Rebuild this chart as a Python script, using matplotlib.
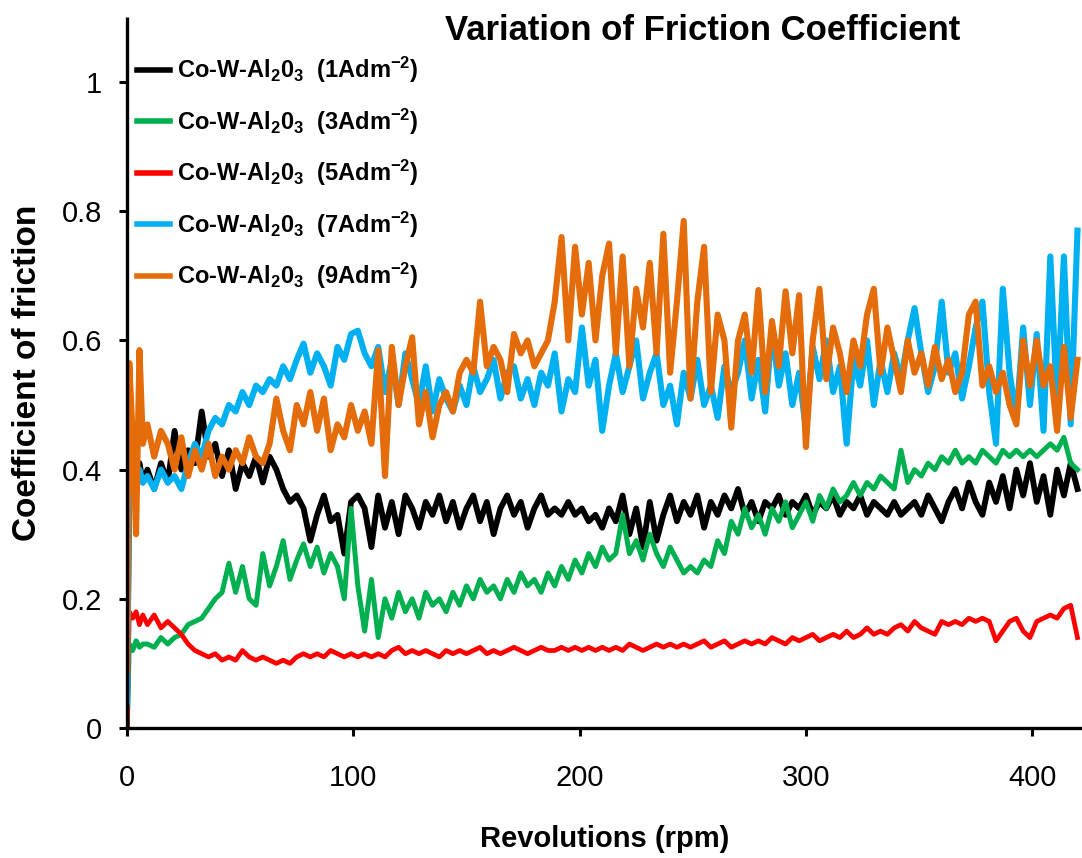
import matplotlib
matplotlib.use("Agg")
import matplotlib.pyplot as plt

# Sampling points along the test (revolutions): a dense start, then every 3 rev
revolutions = [0, 1, 2.5, 4, 5.5, 7] + list(range(9, 421, 3))

mu_1A = [0.00, 0.40, 0.42, 0.39, 0.41, 0.38,
         0.40, 0.37, 0.41, 0.38, 0.46, 0.40, 0.43, 0.41, 0.49, 0.42,
         0.44, 0.39, 0.43, 0.37, 0.41, 0.39, 0.42, 0.38, 0.42, 0.40,
         0.37, 0.35, 0.36, 0.34, 0.29, 0.33, 0.36, 0.32, 0.33, 0.27,
         0.35, 0.36, 0.34, 0.28, 0.36, 0.31, 0.35, 0.30, 0.36, 0.34,
         0.31, 0.35, 0.33, 0.36, 0.32, 0.35, 0.31, 0.34, 0.36, 0.32,
         0.35, 0.30, 0.34, 0.36, 0.33, 0.35, 0.31, 0.34, 0.36, 0.33,
         0.34, 0.33, 0.35, 0.33, 0.34, 0.32, 0.33, 0.31, 0.34, 0.32,
         0.36, 0.30, 0.34, 0.28, 0.35, 0.29, 0.33, 0.36, 0.32, 0.35,
         0.33, 0.36, 0.31, 0.35, 0.33, 0.36, 0.34, 0.37, 0.33, 0.35,
         0.32, 0.35, 0.34, 0.36, 0.33, 0.35, 0.34, 0.36, 0.33, 0.35,
         0.34, 0.36, 0.33, 0.35, 0.34, 0.36, 0.33, 0.35, 0.34, 0.33,
         0.35, 0.33, 0.34, 0.35, 0.33, 0.36, 0.34, 0.32, 0.35, 0.37,
         0.34, 0.38, 0.35, 0.33, 0.38, 0.35, 0.39, 0.34, 0.40, 0.36,
         0.41, 0.35, 0.39, 0.33, 0.40, 0.36, 0.41, 0.37]

mu_3A = [0.00, 0.13, 0.12, 0.135, 0.125, 0.13,
         0.13, 0.125, 0.14, 0.13, 0.14, 0.145, 0.16, 0.165, 0.17, 0.185,
         0.20, 0.21, 0.255, 0.21, 0.25, 0.20, 0.19, 0.27, 0.22, 0.25,
         0.29, 0.23, 0.26, 0.285, 0.25, 0.28, 0.24, 0.27, 0.25, 0.20,
         0.34, 0.22, 0.15, 0.23, 0.14, 0.20, 0.17, 0.21, 0.18, 0.20,
         0.17, 0.21, 0.19, 0.20, 0.18, 0.21, 0.19, 0.22, 0.20, 0.23,
         0.21, 0.22, 0.20, 0.23, 0.21, 0.24, 0.22, 0.23, 0.21, 0.24,
         0.22, 0.25, 0.23, 0.26, 0.24, 0.27, 0.25, 0.28, 0.26, 0.27,
         0.33, 0.27, 0.29, 0.26, 0.30, 0.27, 0.25, 0.28, 0.26, 0.24,
         0.25, 0.24, 0.26, 0.25, 0.29, 0.27, 0.32, 0.30, 0.34, 0.31,
         0.33, 0.30, 0.34, 0.32, 0.35, 0.31, 0.33, 0.35, 0.32, 0.36,
         0.34, 0.37, 0.35, 0.36, 0.38, 0.36, 0.38, 0.37, 0.39, 0.38,
         0.37, 0.43, 0.38, 0.40, 0.39, 0.41, 0.40, 0.42, 0.41, 0.43,
         0.41, 0.42, 0.41, 0.43, 0.42, 0.41, 0.43, 0.42, 0.43, 0.42,
         0.43, 0.42, 0.43, 0.44, 0.43, 0.45, 0.41, 0.40]

mu_5A = [0.00, 0.18, 0.17, 0.18, 0.16, 0.175,
         0.16, 0.175, 0.155, 0.165, 0.155, 0.145, 0.13, 0.12, 0.115, 0.11,
         0.115, 0.105, 0.11, 0.105, 0.12, 0.11, 0.105, 0.11, 0.105, 0.10,
         0.105, 0.10, 0.11, 0.115, 0.11, 0.115, 0.11, 0.12, 0.115, 0.11,
         0.115, 0.11, 0.115, 0.11, 0.115, 0.11, 0.12, 0.125, 0.115, 0.12,
         0.115, 0.12, 0.115, 0.11, 0.12, 0.115, 0.12, 0.115, 0.12, 0.125,
         0.115, 0.12, 0.115, 0.12, 0.125, 0.12, 0.115, 0.12, 0.125, 0.12,
         0.12, 0.125, 0.12, 0.125, 0.12, 0.125, 0.12, 0.125, 0.12, 0.125,
         0.12, 0.13, 0.125, 0.12, 0.125, 0.13, 0.125, 0.13, 0.125, 0.13,
         0.125, 0.13, 0.135, 0.125, 0.13, 0.135, 0.125, 0.13, 0.135, 0.13,
         0.135, 0.13, 0.14, 0.135, 0.13, 0.14, 0.135, 0.14, 0.145, 0.135,
         0.14, 0.145, 0.14, 0.15, 0.14, 0.145, 0.155, 0.145, 0.15, 0.145,
         0.155, 0.16, 0.15, 0.165, 0.155, 0.15, 0.145, 0.165, 0.16, 0.165,
         0.16, 0.17, 0.165, 0.17, 0.165, 0.135, 0.15, 0.165, 0.17, 0.15,
         0.14, 0.165, 0.17, 0.175, 0.17, 0.185, 0.19, 0.14]

mu_7A = [0.04, 0.40, 0.39, 0.37, 0.40, 0.38,
         0.39, 0.37, 0.40, 0.38, 0.39, 0.37, 0.41, 0.44, 0.42, 0.46,
         0.48, 0.47, 0.50, 0.49, 0.52, 0.50, 0.53, 0.52, 0.54, 0.53,
         0.56, 0.54, 0.57, 0.595, 0.55, 0.58, 0.56, 0.53, 0.59, 0.57,
         0.61, 0.615, 0.58, 0.56, 0.59, 0.52, 0.57, 0.50, 0.58, 0.54,
         0.50, 0.56, 0.49, 0.54, 0.51, 0.49, 0.53, 0.50, 0.56, 0.52,
         0.54, 0.57, 0.51, 0.55, 0.56, 0.51, 0.54, 0.50, 0.55, 0.53,
         0.58, 0.49, 0.54, 0.52, 0.62, 0.53, 0.57, 0.46, 0.53, 0.58,
         0.52, 0.56, 0.60, 0.51, 0.55, 0.58, 0.50, 0.53, 0.47, 0.55,
         0.51, 0.57, 0.50, 0.53, 0.48, 0.56, 0.52, 0.55, 0.60, 0.51,
         0.57, 0.49, 0.62, 0.53, 0.58, 0.50, 0.55, 0.46, 0.59, 0.54,
         0.60, 0.52, 0.56, 0.44, 0.57, 0.53, 0.60, 0.50, 0.57, 0.52,
         0.58, 0.54, 0.60, 0.65, 0.58, 0.52, 0.56, 0.66, 0.55, 0.58,
         0.51, 0.56, 0.62, 0.66, 0.52, 0.44, 0.68, 0.55, 0.48, 0.62,
         0.50, 0.61, 0.46, 0.73, 0.50, 0.73, 0.47, 0.77]

mu_9A = [0.09, 0.565, 0.45, 0.30, 0.585, 0.44,
         0.47, 0.42, 0.46, 0.44, 0.40, 0.45, 0.39, 0.43, 0.40, 0.44,
         0.39, 0.42, 0.40, 0.43, 0.41, 0.45, 0.42, 0.41, 0.44, 0.51,
         0.46, 0.43, 0.50, 0.47, 0.52, 0.46, 0.51, 0.43, 0.47, 0.45,
         0.50, 0.46, 0.49, 0.44, 0.585, 0.39, 0.59, 0.50, 0.56, 0.605,
         0.47, 0.52, 0.45, 0.50, 0.52, 0.49, 0.55, 0.57, 0.55, 0.66,
         0.56, 0.59, 0.57, 0.52, 0.61, 0.58, 0.60, 0.56, 0.58, 0.60,
         0.66, 0.76, 0.60, 0.745, 0.64, 0.72, 0.60, 0.70, 0.75, 0.58,
         0.73, 0.56, 0.68, 0.62, 0.72, 0.58, 0.765, 0.55, 0.66, 0.785,
         0.51, 0.66, 0.745, 0.52, 0.64, 0.60, 0.465, 0.60, 0.64, 0.55,
         0.678, 0.52, 0.63, 0.56, 0.676, 0.58, 0.67, 0.435, 0.60, 0.68,
         0.54, 0.62, 0.58, 0.52, 0.60, 0.56, 0.64, 0.68, 0.55, 0.62,
         0.57, 0.52, 0.60, 0.55, 0.58, 0.53, 0.59, 0.54, 0.57, 0.52,
         0.55, 0.64, 0.66, 0.53, 0.56, 0.52, 0.55, 0.50, 0.47, 0.60,
         0.53, 0.60, 0.53, 0.56, 0.46, 0.59, 0.48, 0.57]

# (values, colour, current density, line width)
series = [
    (mu_1A, "#000000", "1", 4.2),
    (mu_3A, "#00B050", "3", 3.6),
    (mu_5A, "#FF0000", "5", 3.4),
    (mu_7A, "#00B0F0", "7", 4.4),
    (mu_9A, "#E46C0A", "9", 4.4),
]

y_ticks = [0, 0.2, 0.4, 0.6, 0.8, 1.0]
y_tick_labels = ["0", "0.2", "0.4", "0.6", "0.8", "1"]
x_ticks = [0, 100, 200, 300, 400]

plt.rcParams["font.family"] = ["Liberation Sans", "DejaVu Sans"]

fig = plt.figure(figsize=(10.82, 8.58), dpi=100)
ax = fig.add_axes([0.1174, 0.1515, 0.8826, 0.8282])

for values, color, density, width in series:
    ax.plot(revolutions, values, color=color, lw=width, solid_joinstyle="round",
            label=r"Co-W-Al$\mathregular{_2}$0$\mathregular{_3}$  (%sAdm$\mathregular{^{-2}}$)" % density)

ax.set_xlim(0, 422)
ax.set_ylim(0, 1.1)
ax.set_xticks(x_ticks)
ax.set_yticks(y_ticks)
ax.set_yticklabels(y_tick_labels)

for side in ("top", "right"):
    ax.spines[side].set_visible(False)
for side in ("left", "bottom"):
    ax.spines[side].set_linewidth(2.4)
    ax.spines[side].set_capstyle("butt")

ax.tick_params(axis="both", direction="out", length=6, width=2.2,
               labelsize=21, colors="black")
ax.tick_params(axis="y", pad=12)
ax.tick_params(axis="x", pad=20)

ax.set_ylabel("Coefficient of friction", fontsize=24, fontweight="bold")
ax.yaxis.set_label_coords(-0.088, 0.5)
ax.set_xlabel("Revolutions (rpm)", fontsize=21, fontweight="bold")
ax.xaxis.set_label_coords(0.5, -0.137)

fig.text(0.649, 0.965, "Variation of Friction Coefficient", ha="center",
         va="center", fontsize=25, fontweight="bold")

leg = ax.legend(loc="upper left", bbox_to_anchor=(0.0105, 0.947), frameon=False,
                borderaxespad=0, borderpad=0, handlelength=1.4, handletextpad=0.3,
                labelspacing=0.9,
                prop={"family": ["Liberation Sans Narrow", "Liberation Sans"],
                      "weight": "bold", "size": 17})
for line in leg.get_lines():
    line.set_linewidth(4)

fig.savefig("out.png", dpi=100)
